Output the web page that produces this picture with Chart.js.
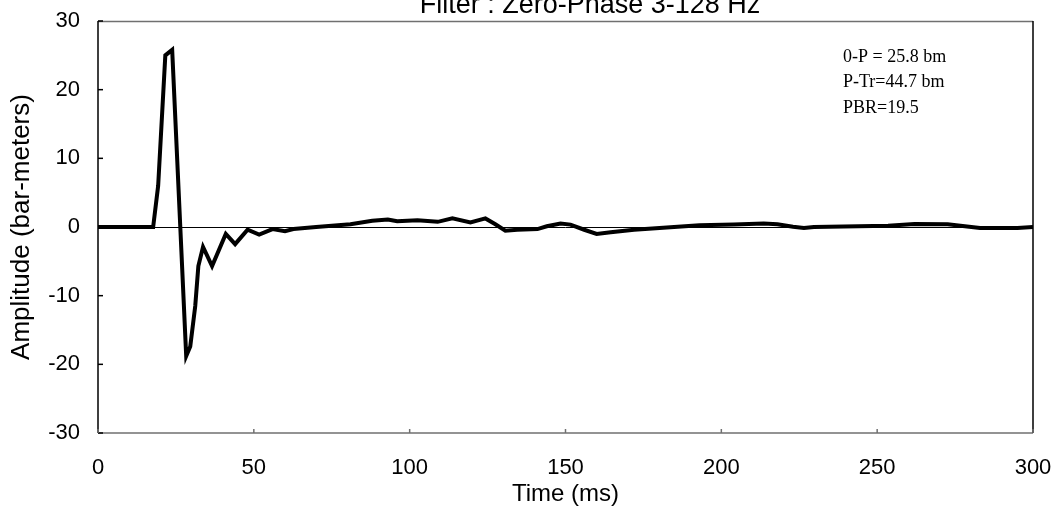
<!DOCTYPE html>
<html>
<head>
<meta charset="utf-8">
<script src="https://cdn.jsdelivr.net/npm/chart.js@4/dist/chart.umd.min.js"></script>
<style>
	html, body { margin: 0; padding: 0; background: #fff; }
	#wrap { width: 1053px; height: 514px; position: relative; }
</style>
</head>
<body>
<div id="wrap"><canvas id="chart-signature"></canvas></div>
<script>
// Series
const TIME_MS = [0, 17.7, 19.3, 21.6, 23.8, 28.3, 29.6, 31.2, 32.2, 33.7, 36.6, 41, 44, 48, 51.7, 56, 60, 62.7, 70, 81, 88, 93, 96, 102.5, 109, 113.7, 119.5, 124.3, 127.5, 130.7, 134.5, 141, 144, 148.4, 151.6, 156, 160, 164.5, 172, 186, 193, 204, 213.6, 218, 223, 226.5, 229.7, 253.5, 262, 272.6, 283, 295, 300];
const AMPLITUDE = [0, 0, 6, 25, 25.8, -18.8, -17.4, -11.5, -5.7, -2.9, -5.7, -1.0, -2.5, -0.4, -1.1, -0.3, -0.6, -0.3, 0, 0.4, 0.9, 1.1, 0.85, 1.0, 0.75, 1.25, 0.65, 1.25, 0.4, -0.55, -0.4, -0.3, 0.1, 0.5, 0.35, -0.4, -1.0, -0.75, -0.4, 0.05, 0.25, 0.35, 0.5, 0.4, 0.05, -0.15, 0, 0.2, 0.45, 0.4, -0.15, -0.15, 0];
const X_TICKS = [0, 50, 100, 150, 200, 250, 300];
const Y_TICKS = [-30, -20, -10, 0, 10, 20, 30];
const NOTES = ["0-P = 25.8 bm", "P-Tr=44.7 bm", "PBR=19.5"];

const CHART_WRAPPER = document.getElementById("chart-signature");
const SANS = "'Liberation Sans', Arial, sans-serif";

// Frame, inner ticks, zero line, title and notes
const framePlugin = {
	id: "frame",
	afterDraw(chart) {
		const { ctx, chartArea: a, scales } = chart;
		ctx.save();
		// zero line
		const y0 = scales.y.getPixelForValue(0);
		ctx.strokeStyle = "#000";
		ctx.lineWidth = 1;
		ctx.beginPath();
		ctx.moveTo(a.left, Math.round(y0) + 0.5);
		ctx.lineTo(a.right, Math.round(y0) + 0.5);
		ctx.stroke();
		ctx.restore();
	},
	beforeDatasetsDraw(chart) {
		const { ctx, chartArea: a, scales } = chart;
		ctx.save();
		ctx.lineWidth = 1.5;
		// top and bottom
		ctx.strokeStyle = "#707070";
		ctx.beginPath();
		ctx.moveTo(a.left, a.top + 0.5);
		ctx.lineTo(a.right, a.top + 0.5);
		ctx.moveTo(a.left, a.bottom);
		ctx.lineTo(a.right, a.bottom);
		ctx.stroke();
		// left and right
		ctx.strokeStyle = "#000";
		ctx.beginPath();
		ctx.moveTo(a.left, a.top);
		ctx.lineTo(a.left, a.bottom);
		ctx.moveTo(a.right, a.top);
		ctx.lineTo(a.right, a.bottom);
		ctx.stroke();
		// ticks
		Y_TICKS.forEach((v) => {
			const y = scales.y.getPixelForValue(v);
			ctx.beginPath();
			ctx.moveTo(a.left, y);
			ctx.lineTo(a.left + 5, y);
			ctx.stroke();
		});
		ctx.strokeStyle = "#707070";
		X_TICKS.forEach((v) => {
			const x = scales.x.getPixelForValue(v);
			ctx.beginPath();
			ctx.moveTo(x, a.bottom);
			ctx.lineTo(x, a.bottom - 4);
			ctx.stroke();
		});
		// title, cut off at the top like the original
		ctx.fillStyle = "#000";
		ctx.font = "27px " + SANS;
		ctx.textAlign = "center";
		ctx.textBaseline = "alphabetic";
		ctx.fillText("Filter : Zero-Phase 3-128 Hz", 590, 13);
		// notes
		ctx.font = "18px 'Liberation Serif', 'Times New Roman', serif";
		ctx.textAlign = "left";
		ctx.textBaseline = "middle";
		NOTES.forEach((t, i) => {
			ctx.fillText(t, 843, 57 + i * 25.5);
		});
		ctx.restore();
	},
};

const DATA = {
	datasets: [
		{
			label: "Signature",
			data: TIME_MS.map((t, i) => ({ x: t, y: AMPLITUDE[i] })),
			borderColor: "#000",
			borderWidth: 4,
			pointRadius: 0,
			tension: 0,
			fill: false,
		},
	],
};

const TICK_FONT = { family: SANS, size: 22 };

const CONFIG = {
	type: "line",
	data: DATA,
	plugins: [framePlugin],
	options: {
		responsive: true,
		maintainAspectRatio: false,
		animation: false,
		layout: {
			padding: { left: 0, right: 0, top: 21, bottom: 0 },
		},
		plugins: {
			legend: { display: false },
			title: { display: false },
			tooltip: { enabled: false },
		},
		scales: {
			x: {
				type: "linear",
				min: 0,
				max: 300,
				border: { display: false },
				grid: { display: false, drawTicks: false },
				afterBuildTicks: (scale) => {
					scale.ticks = X_TICKS.map((v) => ({ value: v }));
				},
				afterFit: (scale) => {
					scale.height = 81;
					scale.paddingLeft = 0;
					scale.paddingRight = 20;
				},
				ticks: {
					color: "#000",
					font: TICK_FONT,
					padding: 22,
					maxRotation: 0,
				},
				title: {
					display: true,
					text: "Time (ms)",
					color: "#000",
					font: { family: SANS, size: 24 },
					padding: { top: 0, bottom: 5 },
				},
			},
			y: {
				type: "linear",
				min: -30,
				max: 30,
				border: { display: false },
				grid: { display: false, drawTicks: false },
				afterBuildTicks: (scale) => {
					scale.ticks = Y_TICKS.map((v) => ({ value: v }));
				},
				afterFit: (scale) => {
					scale.width = 98;
					scale.paddingTop = 0;
					scale.paddingBottom = 0;
				},
				ticks: {
					color: "#000",
					font: TICK_FONT,
					padding: 18,
				},
				title: {
					display: true,
					text: "Amplitude (bar-meters)",
					color: "#000",
					font: { family: SANS, size: 26 },
					padding: { top: 6, bottom: 0 },
				},
			},
		},
	},
};

if (CHART_WRAPPER) {
	new Chart(CHART_WRAPPER, CONFIG);
}
</script>
</body>
</html>
